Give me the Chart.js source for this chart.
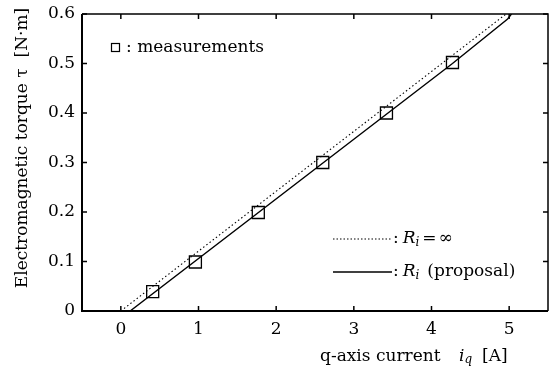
<!DOCTYPE html>
<html>
<head>
<meta charset="utf-8">
<script src="https://cdn.jsdelivr.net/npm/chart.js@4/dist/chart.umd.min.js"></script>
<style>
html,body{margin:0;padding:0;background:#fff;}
#wrap{width:553px;height:370px;position:relative;}
</style>
</head>
<body>
<div id="wrap"><canvas id="c" width="553" height="370"></canvas></div>
<script>
// ---- data ----
const measX = [0.41, 0.96, 1.77, 2.60, 3.42, 4.27];
const measY = [0.039, 0.099, 0.199, 0.300, 0.400, 0.502];
const solidX = [0.12, 4.27, 4.98, 5.03];
const solidY = [0.0, 0.50, 0.59, 0.60];
const dottedX = [0.0, 4.96];
const dottedY = [0.0, 0.60];
const xTickValues = [0, 1, 2, 3, 4, 5];
const yTickValues = [0, 0.1, 0.2, 0.3, 0.4, 0.5, 0.6];
const xTitle = "q-axis current";
const yTitle = "Electromagnetic torque \u03c4  [N\u00b7m]";
const legMeas = ": measurements";
const legInf = "(proposal)";

const SERIF = "'DejaVu Serif', 'Liberation Serif', serif";
const zip = (xs, ys) => xs.map((x, i) => ({x, y: ys[i]}));

const framePlugin = {
  id: 'frame',
  afterDraw(chart) {
    const ctx = chart.ctx;
    const a = chart.chartArea;
    const xs = chart.scales.x, ys = chart.scales.y;
    ctx.save();
    ctx.strokeStyle = '#000';
    ctx.fillStyle = '#000';
    // frame
    ctx.lineWidth = 2;
    ctx.beginPath();
    ctx.moveTo(a.left, a.top); ctx.lineTo(a.left, a.bottom); ctx.lineTo(a.right, a.bottom);
    ctx.stroke();
    ctx.lineWidth = 1.5;
    ctx.beginPath();
    ctx.moveTo(a.left, a.top); ctx.lineTo(a.right, a.top); ctx.lineTo(a.right, a.bottom);
    ctx.stroke();
    // inward ticks
    ctx.lineWidth = 1.5;
    const L = 5;
    xTickValues.forEach(v => {
      const px = xs.getPixelForValue(v);
      ctx.beginPath();
      ctx.moveTo(px, a.bottom); ctx.lineTo(px, a.bottom - L);
      ctx.moveTo(px, a.top); ctx.lineTo(px, a.top + L);
      ctx.stroke();
    });
    yTickValues.forEach(v => {
      const py = ys.getPixelForValue(v);
      ctx.beginPath();
      ctx.moveTo(a.left, py); ctx.lineTo(a.left + L, py);
      ctx.moveTo(a.right, py); ctx.lineTo(a.right - L, py);
      ctx.stroke();
    });

    function runs(x, y, parts) {
      parts.forEach(p => {
        ctx.font = p.font;
        ctx.fillText(p.t, x, y + (p.dy || 0));
        x += ctx.measureText(p.t).width + (p.gap || 0);
      });
      return x;
    }
    ctx.textBaseline = 'alphabetic';
    ctx.textAlign = 'left';
    const F = '17px ' + SERIF;
    const FI = 'italic 17px ' + SERIF;
    const FS = 'italic 12px ' + SERIF;

    // y title
    ctx.save();
    ctx.translate(27, 148);
    ctx.rotate(-Math.PI / 2);
    ctx.font = F;
    ctx.textAlign = 'center';
    ctx.fillText(yTitle, 0, 0);
    ctx.restore();

    // x title
    ctx.font = F;
    ctx.fillText(xTitle, 320, 361);
    runs(459, 361, [
      {t: 'i', font: FI, gap: 0},
      {t: 'q', font: FS, dy: 2, gap: 10},
      {t: '[A]', font: F}
    ]);

    // legend: measurements
    ctx.lineWidth = 1.2;
    ctx.strokeRect(111.5, 43.5, 8, 8);
    ctx.font = F;
    ctx.fillText(legMeas, 126, 52);

    // legend: R_i = inf (dotted)
    ctx.lineWidth = 1.1;
    ctx.setLineDash([1.5, 2]);
    ctx.beginPath(); ctx.moveTo(333, 239); ctx.lineTo(392, 239); ctx.stroke();
    ctx.setLineDash([]);
    runs(393, 243, [
      {t: ':', font: F, gap: 4},
      {t: 'R', font: FI, gap: 0},
      {t: 'i', font: FS, dy: 3, gap: 3},
      {t: '=', font: F, gap: 2},
      {t: '\u221e', font: F}
    ]);
    // legend: R_i proposal (solid)
    ctx.lineWidth = 1.4;
    ctx.beginPath(); ctx.moveTo(333, 272); ctx.lineTo(392, 272); ctx.stroke();
    runs(393, 276, [
      {t: ':', font: F, gap: 4},
      {t: 'R', font: FI, gap: 0},
      {t: 'i', font: FS, dy: 3, gap: 8},
      {t: legInf, font: F}
    ]);
    ctx.restore();
  }
};

new Chart(document.getElementById('c'), {
  type: 'scatter',
  data: {
    datasets: [
      {
        label: 'Ri = inf',
        data: zip(dottedX, dottedY),
        showLine: true,
        borderColor: '#000',
        borderWidth: 1.1,
        borderDash: [1.5, 2.5],
        pointRadius: 0,
        fill: false
      },
      {
        label: 'Ri proposal',
        data: zip(solidX, solidY),
        showLine: true,
        borderColor: '#000',
        borderWidth: 1.4,
        pointRadius: 0,
        fill: false
      },
      {
        label: 'measurements',
        data: zip(measX, measY),
        showLine: false,
        pointStyle: 'rect',
        pointRadius: 8.5,
        pointBorderWidth: 1.3,
        pointBorderColor: '#000',
        pointBackgroundColor: '#fff'
      }
    ]
  },
  options: {
    responsive: false,
    animation: false,
    layout: {autoPadding: false, padding: {top: 14, right: 5, left: 0, bottom: 0}},
    plugins: {legend: {display: false}, tooltip: {enabled: false}},
    scales: {
      x: {
        type: 'linear',
        min: -0.5, max: 5.5,
        afterBuildTicks: s => { s.ticks = xTickValues.map(v => ({value: v})); },
        afterFit: s => { s.height = 59; s.paddingLeft = 0; s.paddingRight = 0; },
        grid: {display: false, drawTicks: false},
        border: {display: false},
        ticks: {
          color: '#000', padding: 8,
          font: {family: SERIF, size: 17},
          callback: v => String(v)
        }
      },
      y: {
        type: 'linear',
        min: 0, max: 0.6,
        afterBuildTicks: s => { s.ticks = yTickValues.map(v => ({value: v})); },
        afterFit: s => { s.width = 82; s.paddingTop = 0; s.paddingBottom = 0; s.paddingLeft = 0; s.paddingRight = 0; },
        grid: {display: false, drawTicks: false},
        border: {display: false},
        ticks: {
          color: '#000', padding: 7,
          font: {family: SERIF, size: 17},
          callback: v => (v === 0 ? '0' : Number(v).toFixed(1))
        }
      }
    }
  },
  plugins: [framePlugin]
});
</script>
</body>
</html>
